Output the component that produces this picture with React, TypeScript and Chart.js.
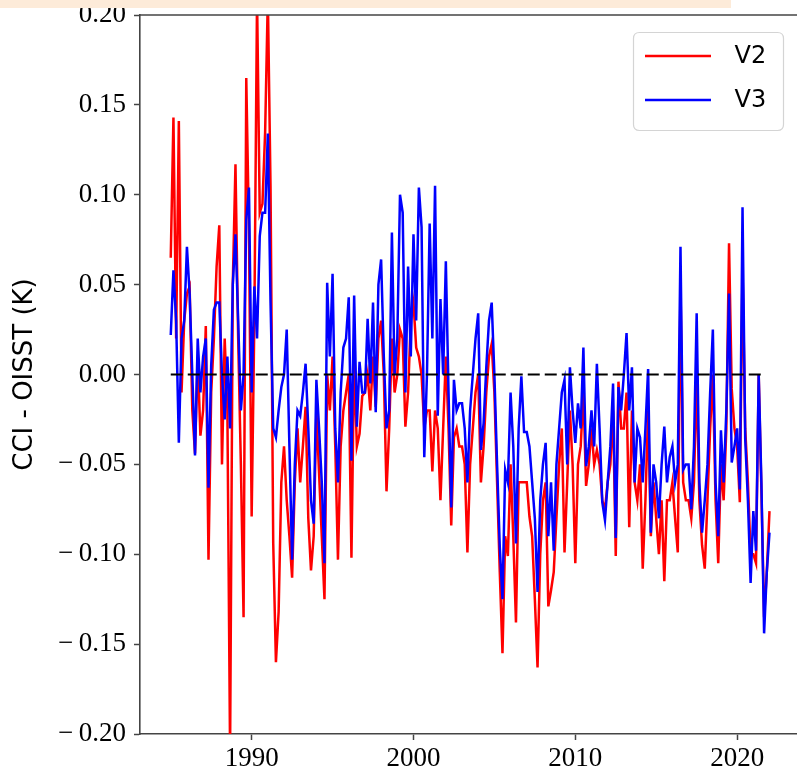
import React, { useEffect, useRef } from "react";
import { Chart, registerables } from "chart.js";

Chart.register(...registerables);

// ---- data (2-month steps starting Jan 1985) ----
const START_YEAR = 1985;
const STEPS_PER_YEAR = 6;

const SERIES_LABELS = ["V2", "V3"];
const SERIES_COLORS = ["#ff0000", "#0000ff"];

const V2 = [
  0.065, 0.143, 0.02, 0.141, -0.01, 0.03,
  0.045, 0.049, -0.02, -0.044, 0.01, -0.034,
  -0.02, 0.027, -0.103, -0.01, 0.02, 0.06,
  0.083, -0.05, 0.02, -0.02, -0.21, 0.05,
  0.117, 0.02, -0.05, -0.135, 0.165, 0.08,
  -0.079, 0.03, 0.21, 0.09, 0.095, 0.135,
  0.21, 0.104, -0.094, -0.16, -0.132, -0.06,
  -0.04, -0.07, -0.09, -0.113, -0.06, -0.03,
  -0.06, -0.04, -0.018, -0.08, -0.109, -0.09,
  -0.02, -0.055, -0.09, -0.125, 0.0, -0.02,
  0.01, -0.04, -0.103, -0.04, -0.02, -0.01,
  0.0, -0.102, 0.01, -0.04, -0.033, -0.012,
  -0.01, 0.0, -0.02, 0.01, -0.018, 0.02,
  0.03, 0.0, -0.065, -0.03, 0.02, -0.01,
  0.0, 0.025, 0.02, -0.029, -0.01, 0.03,
  0.04, 0.015, 0.01, 0.0, -0.03, -0.02,
  -0.02, -0.054, -0.02, -0.03, -0.07, -0.03,
  0.01, -0.03, -0.084, -0.035, -0.03, -0.04,
  -0.04, -0.05, -0.099, -0.05, -0.03, -0.01,
  0.0, -0.06, -0.04, -0.01, 0.01, 0.017,
  -0.01, -0.06, -0.11, -0.155, -0.09, -0.101,
  -0.05, -0.09, -0.138, -0.06, -0.06, -0.06,
  -0.06, -0.079, -0.09, -0.125, -0.163, -0.1,
  -0.07, -0.06, -0.129, -0.12, -0.11, -0.08,
  -0.05, -0.03, -0.099, -0.06, -0.02, -0.05,
  -0.105, -0.05, -0.04, -0.01, -0.062, -0.05,
  -0.03, -0.05, -0.042, -0.05, -0.07, -0.075,
  -0.06, -0.05, -0.02, -0.101, -0.004, -0.03,
  -0.03, -0.01, -0.085, -0.02, -0.06, -0.07,
  -0.05, -0.108, -0.07, -0.02, -0.09, -0.06,
  -0.08, -0.1, -0.07, -0.115, -0.07, -0.07,
  -0.06, -0.08, -0.099, 0.05, -0.06, -0.07,
  -0.07, -0.08, -0.06, 0.0, -0.07, -0.095,
  -0.108, -0.07, -0.03, 0.0, -0.07, -0.105,
  -0.05, -0.07, -0.03, 0.073, -0.008, -0.03,
  -0.04, -0.071, 0.06, -0.03, -0.06, -0.1,
  -0.1, -0.105, 0.0, -0.064, -0.135, -0.11,
  -0.076,
];

const V3 = [
  0.022, 0.058, 0.03, -0.038, 0.02, 0.03,
  0.071, 0.045, 0.0, -0.045, 0.02, -0.01,
  0.01, 0.02, -0.063, 0.005, 0.036, 0.04,
  0.04, 0.0, -0.025, 0.01, -0.03, 0.05,
  0.078, 0.03, -0.02, 0.0, 0.086, 0.104,
  -0.01, 0.049, 0.02, 0.077, 0.09, 0.09,
  0.134, 0.04, -0.03, -0.035, -0.02, -0.007,
  0.0, 0.025, -0.04, -0.103, -0.05, -0.02,
  -0.023, -0.01, 0.006, -0.03, -0.07, -0.083,
  -0.003, -0.03, -0.06, -0.105, 0.051, 0.01,
  0.056, -0.03, -0.06, -0.01, 0.015, 0.02,
  0.043, -0.048, 0.044, -0.029, 0.007, -0.01,
  -0.01, 0.031, -0.005, 0.04, -0.021, 0.05,
  0.064, 0.01, -0.03, -0.02, 0.079, 0.0,
  0.02, 0.1, 0.09, -0.01, 0.06, 0.01,
  0.078, 0.03, 0.104, 0.082, -0.046, 0.0,
  0.084, 0.02, 0.105, -0.023, 0.042, 0.0,
  0.063, -0.01, -0.074, -0.003, -0.02, -0.016,
  -0.016, -0.03, -0.06, -0.02, 0.0, 0.02,
  0.034, -0.042, -0.027, 0.004, 0.03, 0.04,
  0.0, -0.05, -0.096, -0.125, -0.053, -0.06,
  -0.01, -0.04, -0.094, -0.03, -0.001, -0.032,
  -0.032, -0.04, -0.06, -0.08, -0.121, -0.07,
  -0.05, -0.038, -0.09, -0.06, -0.098, -0.05,
  -0.03, -0.01, -0.003, -0.05, 0.004, -0.02,
  -0.038, -0.016, -0.03, 0.015, -0.051, -0.04,
  -0.02, -0.04, 0.006, -0.03, -0.071, -0.081,
  -0.06, -0.04, -0.005, -0.091, -0.007, -0.02,
  0.0, 0.023, -0.02, 0.004, -0.06, -0.03,
  -0.035, -0.06, -0.03, 0.003, -0.088, -0.05,
  -0.06, -0.08, -0.05, -0.029, -0.06, -0.046,
  -0.04, -0.06, -0.05, 0.071, -0.053, -0.05,
  -0.05, -0.075, -0.04, 0.034, -0.06, -0.088,
  -0.07, -0.05, -0.01, 0.025, -0.06, -0.09,
  -0.031, -0.06, -0.02, 0.045, -0.049, -0.04,
  -0.03, -0.064, 0.093, -0.036, -0.07, -0.116,
  -0.076, -0.098, 0.0, -0.06, -0.144, -0.11,
  -0.088,
];

const ZERO_LINE_X = [1985, 2021.75];
const X_TICKS = [1990, 2000, 2010, 2020];
const Y_TICKS = [-0.2, -0.15, -0.1, -0.05, 0, 0.05, 0.1, 0.15, 0.2];
const X_RANGE = [1983.1, 2023.7];
const Y_RANGE = [-0.2, 0.2];
const Y_TITLE = "CCI - OISST (K)";

const toPoints = (vals: number[]) =>
  vals.map((y, i) => ({ x: START_YEAR + i / STEPS_PER_YEAR, y }));

const fmtY = (v: number) => {
  const s = Math.abs(v).toFixed(2);
  return v < -1e-9 ? "\u2212\u2009" + s : s;
};

const AXIS_COLOR = "#444444";
const SERIF = "'Liberation Serif', 'DejaVu Serif', serif";
const SANS = "'DejaVu Sans', sans-serif";

const framePlugin = {
  id: "frame",
  afterDraw(chart: any) {
    const { ctx, chartArea } = chart;
    ctx.save();
    // top spine
    ctx.strokeStyle = AXIS_COLOR;
    ctx.lineWidth = 1.6;
    ctx.beginPath();
    ctx.moveTo(chartArea.left - 0.8, chartArea.top);
    ctx.lineTo(chartArea.right + 2, chartArea.top);
    ctx.stroke();

    // legend box
    const bx = chartArea.right - 163.5;
    const by = chartArea.top + 17.5;
    const bw = 150;
    const bh = 98;
    const r = 6;
    ctx.beginPath();
    ctx.moveTo(bx + r, by);
    ctx.lineTo(bx + bw - r, by);
    ctx.quadraticCurveTo(bx + bw, by, bx + bw, by + r);
    ctx.lineTo(bx + bw, by + bh - r);
    ctx.quadraticCurveTo(bx + bw, by + bh, bx + bw - r, by + bh);
    ctx.lineTo(bx + r, by + bh);
    ctx.quadraticCurveTo(bx, by + bh, bx, by + bh - r);
    ctx.lineTo(bx, by + r);
    ctx.quadraticCurveTo(bx, by, bx + r, by);
    ctx.closePath();
    ctx.fillStyle = "rgba(255,255,255,0.85)";
    ctx.fill();
    ctx.strokeStyle = "#d4d4d4";
    ctx.lineWidth = 1.2;
    ctx.stroke();

    ctx.font = `24px ${SANS}`;
    ctx.textBaseline = "middle";
    ctx.textAlign = "left";
    SERIES_LABELS.forEach((lab, i) => {
      const ly = by + 23.5 + i * 44;
      ctx.strokeStyle = SERIES_COLORS[i];
      ctx.lineWidth = 2.5;
      ctx.beginPath();
      ctx.moveTo(bx + 11.5, ly);
      ctx.lineTo(bx + 77.5, ly);
      ctx.stroke();
      ctx.fillStyle = "#000";
      ctx.fillText(lab, bx + 101, ly + 1);
    });
    ctx.restore();
  },
};

export default function App() {
  const canvasRef = useRef<HTMLCanvasElement | null>(null);

  useEffect(() => {
    const canvas = canvasRef.current;
    if (!canvas) return;
    const chart = new Chart(canvas, {
      type: "line",
      data: {
        datasets: [
          {
            label: SERIES_LABELS[0],
            data: toPoints(V2),
            borderColor: SERIES_COLORS[0],
            borderWidth: 2.5,
            pointRadius: 0,
            tension: 0,
            order: 2,
          },
          {
            label: SERIES_LABELS[1],
            data: toPoints(V3),
            borderColor: SERIES_COLORS[1],
            borderWidth: 2.5,
            pointRadius: 0,
            tension: 0,
            order: 1,
          },
          {
            label: "zero",
            data: ZERO_LINE_X.map((x) => ({ x, y: 0 })),
            borderColor: "#000",
            borderWidth: 2,
            borderDash: [12, 5],
            pointRadius: 0,
            order: 0,
          },
        ],
      },
      options: {
        responsive: false,
        animation: false,
        events: [],
        layout: { padding: { top: 15, left: 0, right: 0, bottom: 0 } },
        plugins: {
          legend: { display: false },
          tooltip: { enabled: false },
        },
        scales: {
          x: {
            type: "linear",
            min: X_RANGE[0],
            max: X_RANGE[1],
            afterBuildTicks: (scale: any) => {
              scale.ticks = X_TICKS.map((v) => ({ value: v }));
            },
            afterFit: (scale: any) => {
              scale.height = 37;
              scale.paddingLeft = 0;
              scale.paddingRight = 0;
            },
            grid: {
              display: true,
              drawOnChartArea: false,
              drawTicks: true,
              tickLength: 6,
              tickColor: AXIS_COLOR,
              tickWidth: 1.5,
            },
            border: { display: true, color: AXIS_COLOR, width: 1.6 },
            ticks: {
              autoSkip: false,
              maxRotation: 0,
              padding: 3,
              color: "#000",
              font: { family: SERIF, size: 27 },
              callback: (v: any) => String(v),
            },
          },
          y: {
            type: "linear",
            min: Y_RANGE[0],
            max: Y_RANGE[1],
            afterBuildTicks: (scale: any) => {
              scale.ticks = Y_TICKS.map((v) => ({ value: v }));
            },
            afterFit: (scale: any) => {
              scale.width = 140;
              scale.paddingTop = 0;
              scale.paddingBottom = 0;
            },
            grid: {
              display: true,
              drawOnChartArea: false,
              drawTicks: true,
              tickLength: 6,
              tickColor: AXIS_COLOR,
              tickWidth: 1.5,
            },
            border: { display: true, color: AXIS_COLOR, width: 1.6 },
            ticks: {
              autoSkip: false,
              padding: 8,
              color: "#000",
              font: { family: SERIF, size: 27 },
              callback: (v: any) => fmtY(Number(v)),
            },
            title: {
              display: true,
              text: Y_TITLE,
              color: "#000",
              font: { family: SANS, size: 26 },
              padding: { top: 10, bottom: 0 },
            },
          },
        },
      },
      plugins: [framePlugin],
    });
    return () => chart.destroy();
  }, []);

  return (
    <div
      style={{
        position: "fixed",
        left: 0,
        top: 0,
        width: 797,
        height: 771,
        overflow: "hidden",
        background: "#fff",
      }}
    >
      <canvas
        ref={canvasRef}
        width={797}
        height={771}
        style={{ display: "block", width: 797, height: 771 }}
      />
      <div
        style={{
          position: "absolute",
          left: 0,
          top: 0,
          width: 731,
          height: 8,
          background: "#fdebd9",
        }}
      />
    </div>
  );
}
